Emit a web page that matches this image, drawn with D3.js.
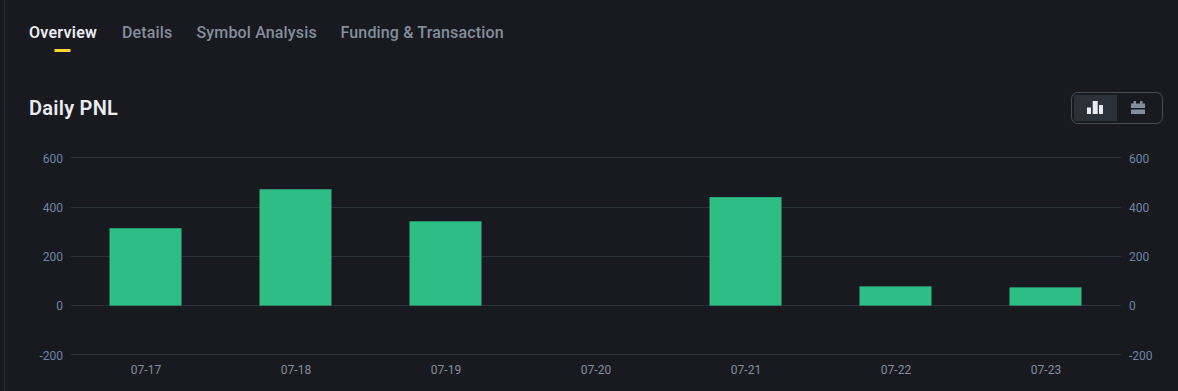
<!DOCTYPE html>
<html><head><meta charset="utf-8">
<script src="https://cdn.jsdelivr.net/npm/d3@7/dist/d3.min.js"></script>
<style>html,body{margin:0;background:#181a20;overflow:hidden}svg{display:block}text{font-family:Roboto,sans-serif}</style>
</head><body><div id="c"></div>
<script>
const categories=["07-17","07-18","07-19","07-20","07-21","07-22","07-23"];
const pnlValues=[314,472,342,0,440,78,74];
const yTicks=[-200,0,200,400,600];
const tabs=["Overview","Details","Symbol Analysis","Funding & Transaction"];
const tabX=[29,122,196.5,340.5];
const W=1178,H=391;
const svg=d3.select("#c").append("svg").attr("width",W).attr("height",H);
svg.append("rect").attr("width",W).attr("height",H).attr("fill","#181a20");
svg.append("line").attr("x1",4.5).attr("x2",4.5).attr("y1",0).attr("y2",H).attr("stroke","#252930");
const x=d3.scaleBand().domain(categories).range([70.5,1120.5]).paddingInner(0.52).paddingOuter(0.26);
const y=d3.scaleLinear().domain([-200,600]).range([354.9,157.7]);
// tabs
svg.selectAll(".tab").data(tabs).join("text").attr("class","tab")
 .attr("x",(d,i)=>tabX[i]).attr("y",38).attr("font-size",16).attr("font-weight",d=>d==="Overview"?600:500)
 .attr("letter-spacing",d=>d==="Overview"?0.25:0.15).attr("fill",(d,i)=>i?"#848e9c":"#eaecef").text(d=>d);
svg.append("rect").attr("x",54.5).attr("y",49).attr("width",16).attr("height",3).attr("fill","#fcd535");
svg.append("text").attr("x",29).attr("y",115).attr("font-size",20).attr("font-weight",600).attr("letter-spacing",0.25).attr("fill","#eaecef").text("Daily PNL");
// toggle
svg.append("rect").attr("x",1071.5).attr("y",92.5).attr("width",91).attr("height",31).attr("rx",6).attr("fill","none").attr("stroke","#474d57");
svg.append("rect").attr("x",1074).attr("y",95).attr("width",43).attr("height",26).attr("fill","#2b3139");
const bars=svg.append("g").attr("fill","#eaecef");
[[1087,107.5,4,6.5],[1092.7,101,5,13],[1099,105,4,9]].forEach(([a,b,w,h])=>bars.append("rect").attr("x",a).attr("y",b).attr("width",w).attr("height",h));
const cal=svg.append("g").attr("fill","#848e9c");
cal.append("rect").attr("x",1131).attr("y",103.5).attr("width",14).attr("height",4.5);
cal.append("rect").attr("x",1131).attr("y",109.5).attr("width",14).attr("height",4.5);
cal.append("rect").attr("x",1133.5).attr("y",101).attr("width",2.5).attr("height",3);
cal.append("rect").attr("x",1140).attr("y",101).attr("width",2.5).attr("height",3);
// axes
svg.append("g").selectAll("line").data(yTicks).join("line")
 .attr("x1",71).attr("x2",1121).attr("y1",d=>Math.floor(y(d))+.5).attr("y2",d=>Math.floor(y(d))+.5).attr("stroke","#2b3139");
const fmt=d=>String(d);
const left=svg.append("g").attr("transform","translate(71,0.5)").call(d3.axisLeft(y).tickValues(yTicks).tickFormat(fmt).tickSize(0).tickPadding(8));
const right=svg.append("g").attr("transform","translate(1121,0.5)").call(d3.axisRight(y).tickValues(yTicks).tickFormat(fmt).tickSize(0).tickPadding(8));
const bottom=svg.append("g").attr("transform","translate(0.5,356)").call(d3.axisBottom(x).tickSize(0).tickPadding(9));
[left,right,bottom].forEach(g=>{g.select(".domain").remove();g.selectAll("text").attr("font-size",12).attr("fill","#848e9c").attr("font-family","Roboto,sans-serif");});
left.selectAll("text").attr("fill","#6f85a8");right.selectAll("text").attr("fill","#6f85a8");
// bars
svg.append("g").selectAll("rect").data(categories).join("rect")
 .attr("x",d=>x(d)).attr("width",x.bandwidth())
 .attr("y",(d,i)=>y(pnlValues[i])).attr("height",(d,i)=>y(0)-y(pnlValues[i]))
 .attr("fill","#2ebd85");
</script></body></html>
